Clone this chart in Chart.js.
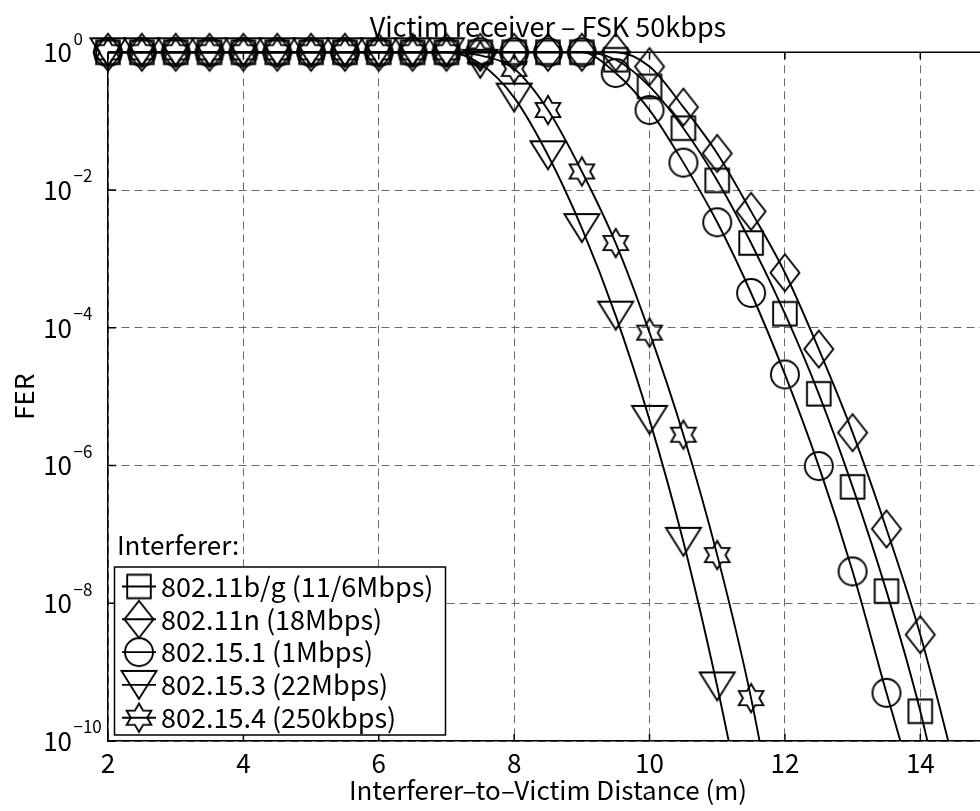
<!DOCTYPE html>
<html>
<head>
<meta charset="utf-8">
<script src="https://cdn.jsdelivr.net/npm/chart.js@4.4.1/dist/chart.umd.min.js"></script>
<style>
  html, body { margin: 0; padding: 0; overflow: hidden; background: #fff; }
  #wrap { width: 1096px; height: 811px; }
</style>
</head>
<body>
<div id="wrap"><canvas id="fer" width="1096" height="811"></canvas></div>
<script>
// interferer-to-victim distance (m), one marker every 0.5 m
const distances = [2, 2.5, 3, 3.5, 4, 4.5, 5, 5.5, 6, 6.5, 7, 7.5, 8, 8.5, 9, 9.5,
                   10, 10.5, 11, 11.5, 12, 12.5, 13, 13.5, 14, 14.5, 15];

// FER (values below 1e-10 only continue the line past the axis)
const fer80211bg = [1, 1, 1, 1, 1, 1, 1, 1, 1, 1, 1, 1, 1, 1, 1,
                    0.78, 0.32, 0.079, 0.0138, 1.7e-3, 1.6e-4, 1.1e-5, 4.9e-7, 1.5e-8, 2.7e-10, 1.8e-12, null];
const fer80211n  = [1, 1, 1, 1, 1, 1, 1, 1, 1, 1, 1, 1, 1, 1, 1, 1,
                    0.62, 0.16, 0.034, 4.9e-3, 6.3e-4, 4.9e-5, 3.0e-6, 1.2e-7, 3.5e-9, 4.6e-11, 5e-13];
const fer802151  = [1, 1, 1, 1, 1, 1, 1, 1, 1, 1, 1, 1, 1, 1, 1,
                    0.5, 0.145, 0.025, 3.4e-3, 3.2e-4, 2.1e-5, 9.8e-7, 2.9e-8, 5e-10, 1e-11, null, null];
const fer802153  = [1, 1, 1, 1, 1, 1, 1, 1, 1, 1, 1,
                    0.68, 0.22, 0.032, 2.8e-3, 1.5e-4, 4.6e-6, 7.8e-8, 6.2e-10, 2.5e-12,
                    null, null, null, null, null, null, null];
const fer802154  = [1, 1, 1, 1, 1, 1, 1, 1, 1, 1, 1,
                    0.9, 0.575, 0.145, 0.0186, 1.7e-3, 8.5e-5, 2.8e-6, 5e-8, 4.2e-10, 1e-12,
                    null, null, null, null, null, null];

const seriesLabels = ['802.11b/g (11/6Mbps)', '802.11n (18Mbps)', '802.15.1 (1Mbps)',
                      '802.15.3 (22Mbps)', '802.15.4 (250kbps)'];
const seriesMarkers = ['square', 'diamond', 'circle', 'triangle', 'hexagram'];
const xTicks = [2, 4, 6, 8, 10, 12, 14];
const yExponents = [0, -2, -4, -6, -8, -10];

const FONT = '"Noto Sans CJK JP", "Noto Sans", sans-serif';
Chart.defaults.font.family = FONT;
Chart.defaults.color = '#000';

// matlab-ish open markers
function markerCanvas(kind) {
  const c = document.createElement('canvas');
  c.width = 44; c.height = 44;
  const g = c.getContext('2d');
  const cx = 22, cy = 22;
  g.strokeStyle = '#000';
  g.lineWidth = 1.9;
  g.beginPath();
  if (kind === 'square') {
    g.rect(cx - 11.8, cy - 11.8, 23.6, 23.6);
  } else if (kind === 'diamond') {
    g.moveTo(cx, cy - 18.5); g.lineTo(cx + 14.5, cy);
    g.lineTo(cx, cy + 18.5); g.lineTo(cx - 14.5, cy); g.closePath();
  } else if (kind === 'circle') {
    g.arc(cx, cy, 14, 0, Math.PI * 2);
  } else if (kind === 'triangle') {
    g.moveTo(cx - 17.5, cy - 14); g.lineTo(cx + 17.5, cy - 14);
    g.lineTo(cx, cy + 14); g.closePath();
  } else if (kind === 'hexagram') {
    const R = 14.2, r = R / Math.sqrt(3);
    for (let i = 0; i < 12; i++) {
      const a = -Math.PI / 2 + i * Math.PI / 6;
      const rad = i % 2 === 0 ? R : r;
      const px = cx + rad * Math.cos(a), py = cy + rad * Math.sin(a);
      if (i === 0) g.moveTo(px, py); else g.lineTo(px, py);
    }
    g.closePath();
  }
  g.stroke();
  return c;
}
const markers = seriesMarkers.map(markerCanvas);

const seriesData = [fer80211bg, fer80211n, fer802151, fer802153, fer802154];

const datasets = seriesData.map((vals, i) => ({
  label: seriesLabels[i],
  data: distances.map((d, k) => ({ x: d, y: vals[k] })),
  borderColor: '#000',
  borderWidth: 1.9,
  pointStyle: markers[i],
  pointRadius: 14,
  pointHoverRadius: 14,
  cubicInterpolationMode: 'monotone',
  fill: false,
  clip: { left: false, top: false, right: 0, bottom: 0 }
}));

const decor = {
  id: 'decor',
  beforeDatasetsDraw(chart) {
    const { ctx, chartArea: a, scales } = chart;
    ctx.save();
    ctx.strokeStyle = '#000';
    ctx.lineWidth = 1.5;
    ctx.beginPath();
    ctx.moveTo(a.left, a.top);
    ctx.lineTo(a.right, a.top);
    // inward ticks
    yExponents.forEach(e => {
      const y = scales.y.getPixelForValue(Math.pow(10, e));
      ctx.moveTo(a.left, y); ctx.lineTo(a.left + 8, y);
    });
    xTicks.forEach(t => {
      const x = scales.x.getPixelForValue(t);
      ctx.moveTo(x, a.bottom); ctx.lineTo(x, a.bottom - 7);
      ctx.moveTo(x, a.top); ctx.lineTo(x, a.top + 7);
    });
    ctx.stroke();
    ctx.restore();
  },
  afterDatasetsDraw(chart) {
    const { ctx } = chart;
    ctx.save();
    ctx.font = '26px ' + FONT;
    ctx.fillStyle = '#000';
    ctx.textBaseline = 'middle';
    ctx.fillText('Interferer:', 117, 545);
    const box = { left: 114.5, right: 445.5, top: 567, bottom: 735 };
    ctx.fillStyle = '#fff';
    ctx.fillRect(box.left, box.top, box.right - box.left, box.bottom - box.top);
    ctx.strokeStyle = '#000';
    ctx.lineWidth = 1.5;
    ctx.strokeRect(box.left, box.top, box.right - box.left, box.bottom - box.top);
    ctx.font = '27px ' + FONT;
    seriesLabels.forEach((lab, i) => {
      const y = 586.5 + i * 32.8;
      ctx.beginPath();
      ctx.moveTo(122, y); ctx.lineTo(156, y);
      ctx.lineWidth = 1.9;
      ctx.stroke();
      ctx.drawImage(markers[i], 139 - 22, y - 22);
      ctx.fillStyle = '#000';
      ctx.fillText(lab, 161, y);
    });
    ctx.restore();
  },
  afterDraw(chart) {
    const { ctx, scales, chartArea: a } = chart;
    ctx.save();
    ctx.fillStyle = '#000';
    ctx.textBaseline = 'middle';
    // title, centred over the axes box
    ctx.font = '27px ' + FONT;
    ctx.textAlign = 'center';
    ctx.fillText('Victim receiver \u2013 FSK 50kbps', (a.left + a.right) / 2, 27);
    yExponents.forEach(e => {
      const y = scales.y.getPixelForValue(Math.pow(10, e));
      ctx.font = '26px ' + FONT;
      ctx.textAlign = 'right';
      ctx.fillText('10', 72, y);
      ctx.font = '17px ' + FONT;
      ctx.textAlign = 'left';
      ctx.fillText(String(e).replace('-', '\u2212'), 73.5, y - 14);
    });
    ctx.restore();
  }
};

new Chart(document.getElementById('fer'), {
  type: 'line',
  data: { datasets },
  plugins: [decor],
  options: {
    responsive: false,
    animation: false,
    devicePixelRatio: 1,
    layout: { padding: { left: 0, right: 108, top: 52.3, bottom: 0 } },
    plugins: {
      legend: { display: false },
      tooltip: { enabled: false },
      title: { display: false }
    },
    scales: {
      x: {
        type: 'linear',
        min: 2,
        max: 15,
        afterBuildTicks: s => { s.ticks = xTicks.map(v => ({ value: v })); },
        afterFit: s => { s.height = 70; },
        ticks: { font: { size: 26 }, color: '#000', padding: 7, maxRotation: 0 },
        grid: { color: '#6a6a6a', lineWidth: 1, drawTicks: false },
        border: { color: '#000', width: 1.5, dash: [8, 5] },
        title: {
          display: true,
          text: 'Interferer\u2013to\u2013Victim Distance (m)',
          font: { size: 26 },
          color: '#000',
          padding: { top: 0, bottom: 5 }
        }
      },
      y: {
        type: 'logarithmic',
        min: 1e-10,
        max: 1,
        afterBuildTicks: s => { s.ticks = yExponents.map(e => ({ value: Math.pow(10, e) })); },
        afterFit: s => { s.width = 108; },
        ticks: { display: false },
        grid: { color: '#6a6a6a', lineWidth: 1, drawTicks: false },
        border: { color: '#000', width: 1.5, dash: [8, 5] },
        title: {
          display: true,
          text: 'FER',
          font: { size: 26 },
          color: '#000',
          padding: { top: 9, bottom: 0 }
        }
      }
    }
  }
});
</script>
</body>
</html>
